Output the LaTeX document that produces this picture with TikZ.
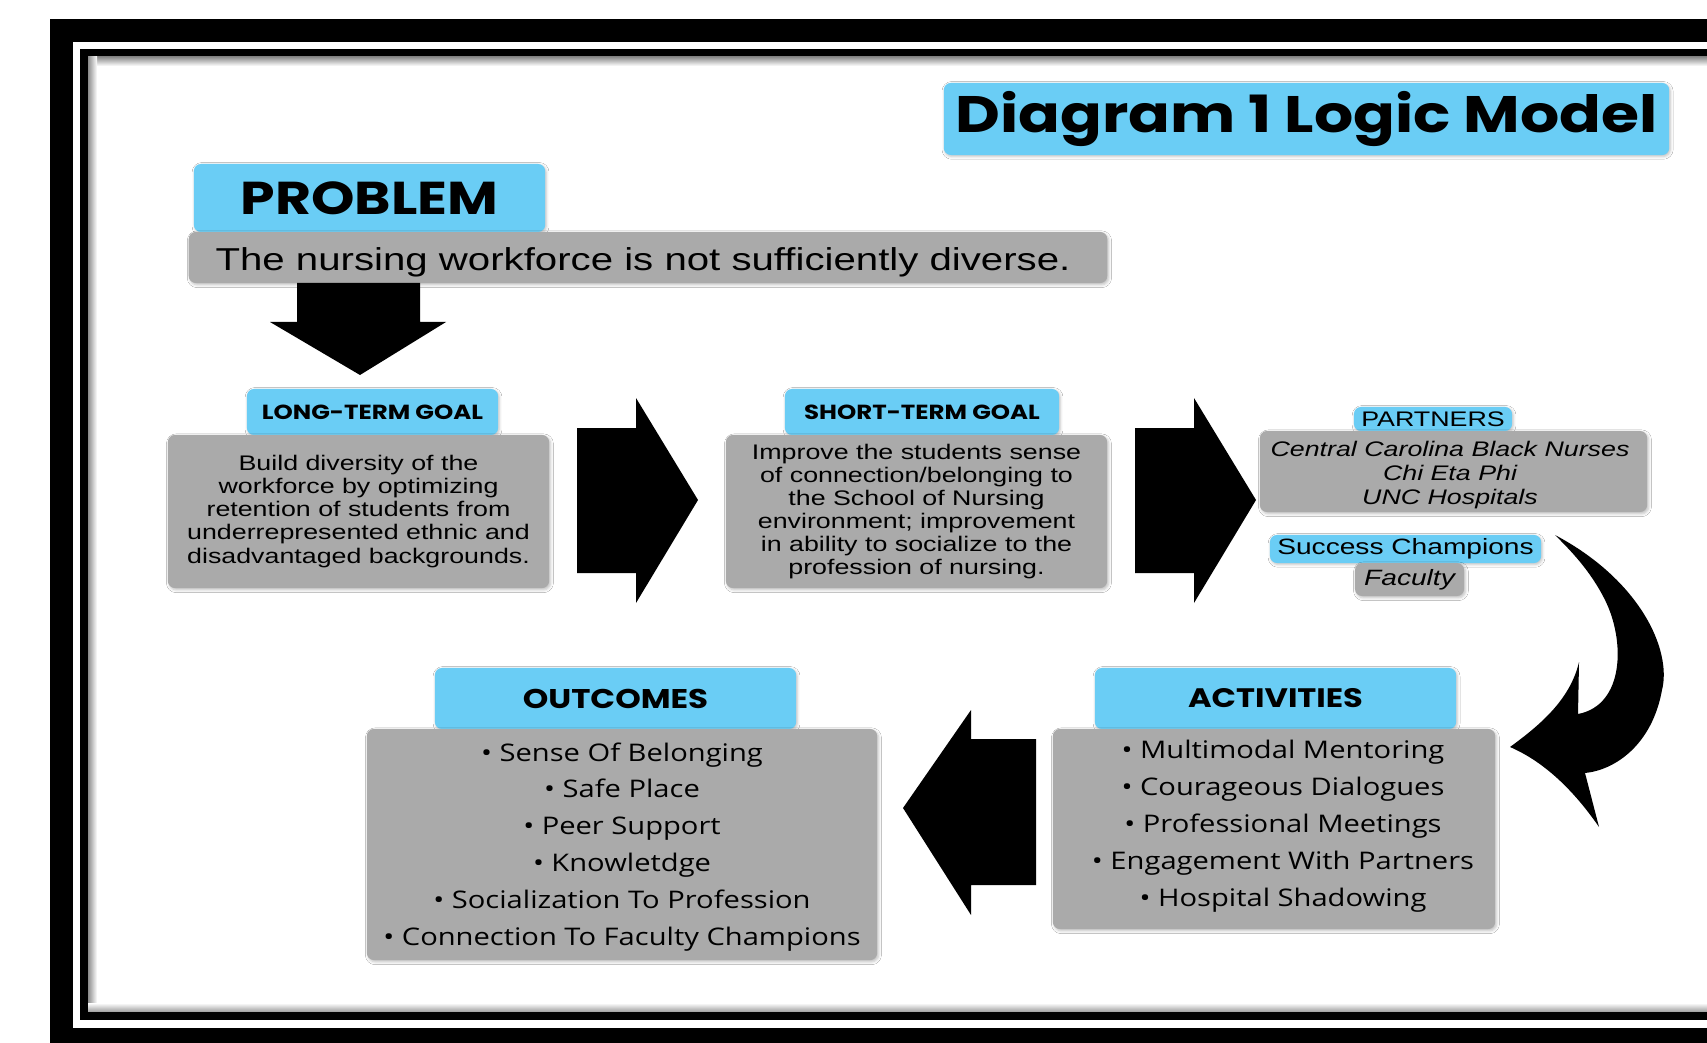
\documentclass[tikz,border=0pt]{standalone}
\usepackage{fontspec}
\usetikzlibrary{shadows.blur}

\newfontfamily\hdfont{Poppins}[FakeStretch=1.2]
\newfontfamily\bdfont{Liberation Sans}[FakeStretch=1.27]
\newfontfamily\lsfont{Open Sans}[FakeStretch=1.2]

\definecolor{tabblue}{RGB}{106,205,245}
\definecolor{boxgray}{RGB}{170,170,170}

\tikzset{
  tab/.style={fill=tabblue, rounded corners=2pt, inner sep=0pt, align=center,
    blur shadow={shadow xshift=0.3pt, shadow yshift=-0.4pt, shadow blur radius=0.8pt, shadow opacity=25}},
  body/.style={fill=boxgray, rounded corners=2pt, inner sep=0pt, align=center,
    blur shadow={shadow xshift=0.4pt, shadow yshift=-0.5pt, shadow blur radius=0.8pt, shadow opacity=25}},
  blockarrow/.style={fill=black},
}

\begin{document}
\begin{tikzpicture}[x=0.01cm, y=-0.01cm]
\useasboundingbox (0,0) rectangle (1707,1043);
\clip (0,0) rectangle (1707,1043);

% double frame
\fill (50,19) rectangle (1720,1060);
\fill[white] (73,42) rectangle (1720,1028);
\fill (80,49) rectangle (1720,1020);
\fill[white] (88,57) rectangle (1720,1011);
\shade[top color=black!45, bottom color=white] (88,57) rectangle (1720,66);
\shade[left color=black!45, right color=white] (88,57) rectangle (97,1011);
\shade[top color=white, bottom color=black!35] (88,1003) rectangle (1720,1011);

% title
\node[tab, minimum width=7.25cm, minimum height=0.72cm,
  font=\hdfont\bfseries\fontsize{14.6}{16}\selectfont] (title) at (1306.5,119) {Diagram 1 Logic Model};

% problem
\node[tab, minimum width=3.51cm, minimum height=0.68cm,
  font=\hdfont\bfseries\fontsize{13.1}{14}\selectfont] (probhead) at (369.5,198) {PROBLEM};
\node[body, minimum width=9.18cm, minimum height=0.51cm] (probbody) at (648,257.5) {};
\node[font=\bdfont\fontsize{9}{11}\selectfont, inner sep=0pt]
  (probtext) at (643,262) {The nursing workforce is not sufficiently diverse.};

% goals
\node[tab, minimum width=2.51cm, minimum height=0.46cm,
  font=\hdfont\bfseries\fontsize{5.8}{7}\selectfont] (ltghead) at (372.5,412) {LONG-TERM GOAL};
\node[tab, minimum width=2.74cm, minimum height=0.46cm,
  font=\hdfont\bfseries\fontsize{5.8}{7}\selectfont] (stghead) at (922,412) {SHORT-TERM GOAL};
\node[body, minimum width=3.81cm, minimum height=1.53cm,
  font=\bdfont\fontsize{6}{6.55}\selectfont] (ltgbody) at (358.5,511.5)
  {Build diversity of the\\ workforce by optimizing\\ retention of students from\\ underrepresented ethnic and\\ disadvantaged backgrounds.};
\node[body, minimum width=3.81cm, minimum height=1.53cm,
  font=\bdfont\fontsize{6}{6.5}\selectfont] (stgbody) at (916.5,511.5)
  {Improve the students sense\\ of connection/belonging to\\ the School of Nursing\\ environment; improvement\\ in ability to socialize to the\\ profession of nursing.};

% partners and champions
\node[tab, minimum width=1.58cm, minimum height=0.24cm,
  font=\bdfont\fontsize{6}{7}\selectfont] (parthead) at (1433,419) {PARTNERS};
\node[body, minimum width=3.87cm, minimum height=0.81cm] (partbody) at (1453.5,471.5) {};
\node[font=\bdfont\itshape\fontsize{6}{6.9}\selectfont, align=center, inner sep=0pt]
  (partlist) at (1450,475) {Central Carolina Black Nurses\\ Chi Eta Phi\\ UNC Hospitals};
\node[tab, minimum width=2.71cm, minimum height=0.28cm,
  font=\bdfont\fontsize{6.3}{7}\selectfont] (champhead) at (1405.5,549) {Success Champions};
\node[body, minimum width=1.09cm, minimum height=0.33cm,
  font=\bdfont\itshape\fontsize{6.3}{7}\selectfont] (champbody) at (1409.5,579.5) {Faculty};

% outcomes and activities
\node[tab, minimum width=3.61cm, minimum height=0.61cm,
  font=\hdfont\bfseries\fontsize{7.7}{9}\selectfont] (outhead) at (615.5,698.5) {OUTCOMES};
\node[tab, minimum width=3.61cm, minimum height=0.61cm,
  font=\hdfont\bfseries\fontsize{7.6}{9}\selectfont] (acthead) at (1275.5,698.5) {ACTIVITIES};
\node[body, minimum width=5.10cm, minimum height=2.31cm] (outbody) at (622,844.5) {};
\node[font=\lsfont\fontsize{6.9}{10.5}\selectfont, align=center, inner sep=0pt]
  (outlist) at (622,847)
  {• Sense Of Belonging\\ • Safe Place\\ • Peer Support\\ • Knowletdge\\
   • Socialization To Profession\\ • Connection To Faculty Champions};
\node[body, minimum width=4.42cm, minimum height=2.00cm] (actbody) at (1274,829) {};
\node[font=\lsfont\fontsize{6.9}{10.5}\selectfont, align=center, inner sep=0pt]
  (actlist) at (1283,826)
  {• Multimodal Mentoring\\ • Courageous Dialogues\\ • Professional Meetings\\
   • Engagement With Partners\\ • Hospital Shadowing};

% block arrows
\fill[blockarrow] (297,283) -- (420,283) -- (420,322) -- (446,322) -- (360,375)
  -- (270,322) -- (297,322) -- cycle;
\fill[blockarrow] (577,428) -- (636,428) -- (636,398) -- (698,500) -- (636,603)
  -- (636,573) -- (577,573) -- cycle;
\fill[blockarrow] (1135,428) -- (1194,428) -- (1194,398) -- (1256,500) -- (1194,603)
  -- (1194,573) -- (1135,573) -- cycle;
\fill[blockarrow] (1036,739) -- (971,739) -- (971,710) -- (903,808) -- (971,915)
  -- (971,885) -- (1036,885) -- cycle;

% curved arrow back to the activities
\fill[blockarrow] (1555,535) .. controls (1640,580) and (1672,650) .. (1662,690)
  .. controls (1652,745) and (1615,770) .. (1585,773) -- (1599,827)
  .. controls (1570,785) and (1540,760) .. (1510,747)
  .. controls (1540,725) and (1570,700) .. (1579,662) -- (1578,714)
  .. controls (1625,705) and (1625,640) .. (1605,600)
  .. controls (1590,570) and (1570,550) .. (1555,535) -- cycle;
\end{tikzpicture}
\end{document}
